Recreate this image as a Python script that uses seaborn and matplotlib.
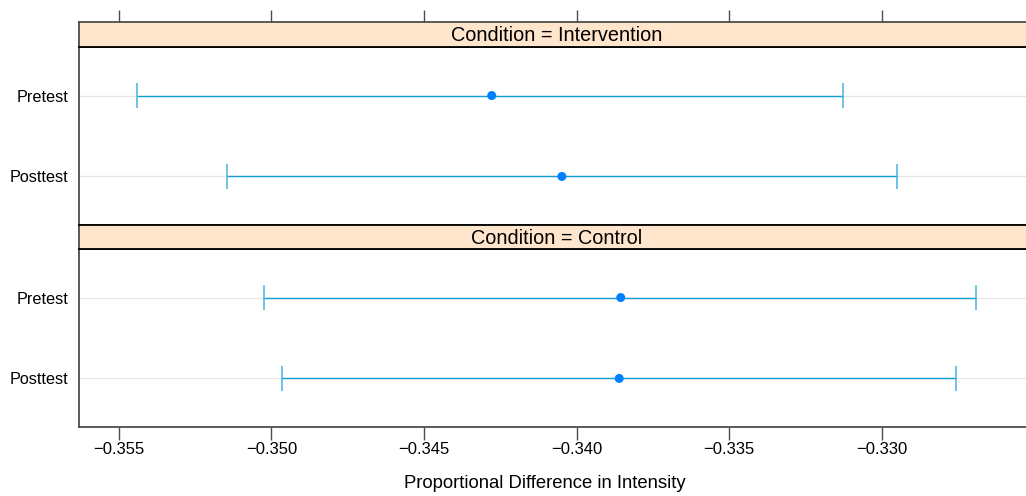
import matplotlib
matplotlib.use("Agg")
import matplotlib.pyplot as plt
import seaborn as sns
import pandas as pd

sns.set_theme(style="white")
plt.rcParams['font.family'] = ['Liberation Sans', 'DejaVu Sans']

# ---- data ----
conditions = ["Intervention", "Intervention", "Control", "Control"]
times = ["Pretest", "Posttest", "Pretest", "Posttest"]
estimates = [-0.34278, -0.34048, -0.33855, -0.33860]
lower = [-0.35440, -0.35146, -0.35026, -0.34967]
upper = [-0.33125, -0.32949, -0.32691, -0.32757]
panel_order = ["Intervention", "Control"]
level_pos = {"Posttest": 1, "Pretest": 2}
xticks = [-0.355, -0.350, -0.345, -0.340, -0.335, -0.330]
xlabel = "Proportional Difference in Intensity"

df = pd.DataFrame({"Condition": conditions, "Time": times, "est": estimates,
                   "lo": lower, "hi": upper})
df["y"] = df["Time"].map(level_pos)

W, H = 1026, 496
fig = plt.figure(figsize=(W / 100, H / 100), dpi=100)

def fx(px):
    return px / W

def fy(py):
    return 1 - py / H

left_px, right_px = 79, 1027
panels = [(47, 225, 22), (249, 427, 225)]  # panel top, panel bottom, strip top
xlim = (-0.356311, -0.325230)
line_col = "#129FD6"
cap_col = "#45B3DF"
pt_col = "#0080FF"
frame_col = "#4d4d4d"

for i, (cond, (ptop, pbot, stop)) in enumerate(zip(panel_order, panels)):
    ax = fig.add_axes([fx(left_px), fy(pbot), fx(right_px - left_px), (pbot - ptop) / H])
    sub = df[df["Condition"] == cond]
    for _, r in sub.iterrows():
        ax.axhline(r["y"], color="#e6e6e6", lw=0.9, zorder=0)
    ax.hlines(sub["y"], sub["lo"], sub["hi"], color=line_col, lw=1.0, zorder=2)
    ax.vlines(sub["lo"], sub["y"] - 0.15, sub["y"] + 0.15, color=cap_col, lw=1.1, zorder=2)
    ax.vlines(sub["hi"], sub["y"] - 0.15, sub["y"] + 0.15, color=cap_col, lw=1.1, zorder=2)
    sns.scatterplot(data=sub, x="est", y="y", ax=ax, color=pt_col, s=42,
                    edgecolor="none", zorder=3, legend=False)
    ax.set_xlim(*xlim)
    ax.set_ylim(0.4, 2.6)
    ax.set_yticks([level_pos["Posttest"], level_pos["Pretest"]])
    ax.set_yticklabels(["Posttest", "Pretest"], fontsize=11.7, color="black")
    ax.tick_params(axis="y", length=0, pad=8)
    ax.set_xlabel("")
    ax.set_ylabel("")
    for s in ax.spines.values():
        s.set_color(frame_col)
        s.set_linewidth(1.3)
    ax.spines["top"].set_color("black")
    ax.set_xticks(xticks)
    if i == 1:
        ax.set_xticklabels([f"\u2212{abs(t):.3f}" for t in xticks], fontsize=12, color="black")
        ax.tick_params(axis="x", bottom=True, length=9, width=1, color=frame_col,
                       direction="out", pad=1.5)
        ax.set_xlabel(xlabel, fontsize=13.3, color="black")
        ax.xaxis.set_label_coords(0.491, -0.272)
    else:
        ax.tick_params(axis="x", bottom=False, labelbottom=False)
    ax.grid(False)

    # strip
    sax = fig.add_axes([fx(left_px), fy(ptop), fx(right_px - left_px), (ptop - stop) / H])
    sax.set_facecolor("#FFE5CC")
    sax.set_xticks([])
    sax.set_yticks([])
    for s in sax.spines.values():
        s.set_color("black")
        s.set_linewidth(1.3)
    sax.spines["left"].set_color(frame_col)
    if i == 0:
        sax.spines["top"].set_color(frame_col)
        sax.set_xlim(*xlim)
        sax.set_xticks(xticks)
        sax.tick_params(axis="x", top=True, bottom=False, labeltop=False, labelbottom=False,
                        length=9, width=1, color=frame_col, direction="out")
    sax.text(0.504, 0.45, f"Condition = {cond}", transform=sax.transAxes,
             ha="center", va="center", fontsize=14.3, color="black")

fig.savefig("out.png", dpi=100)
